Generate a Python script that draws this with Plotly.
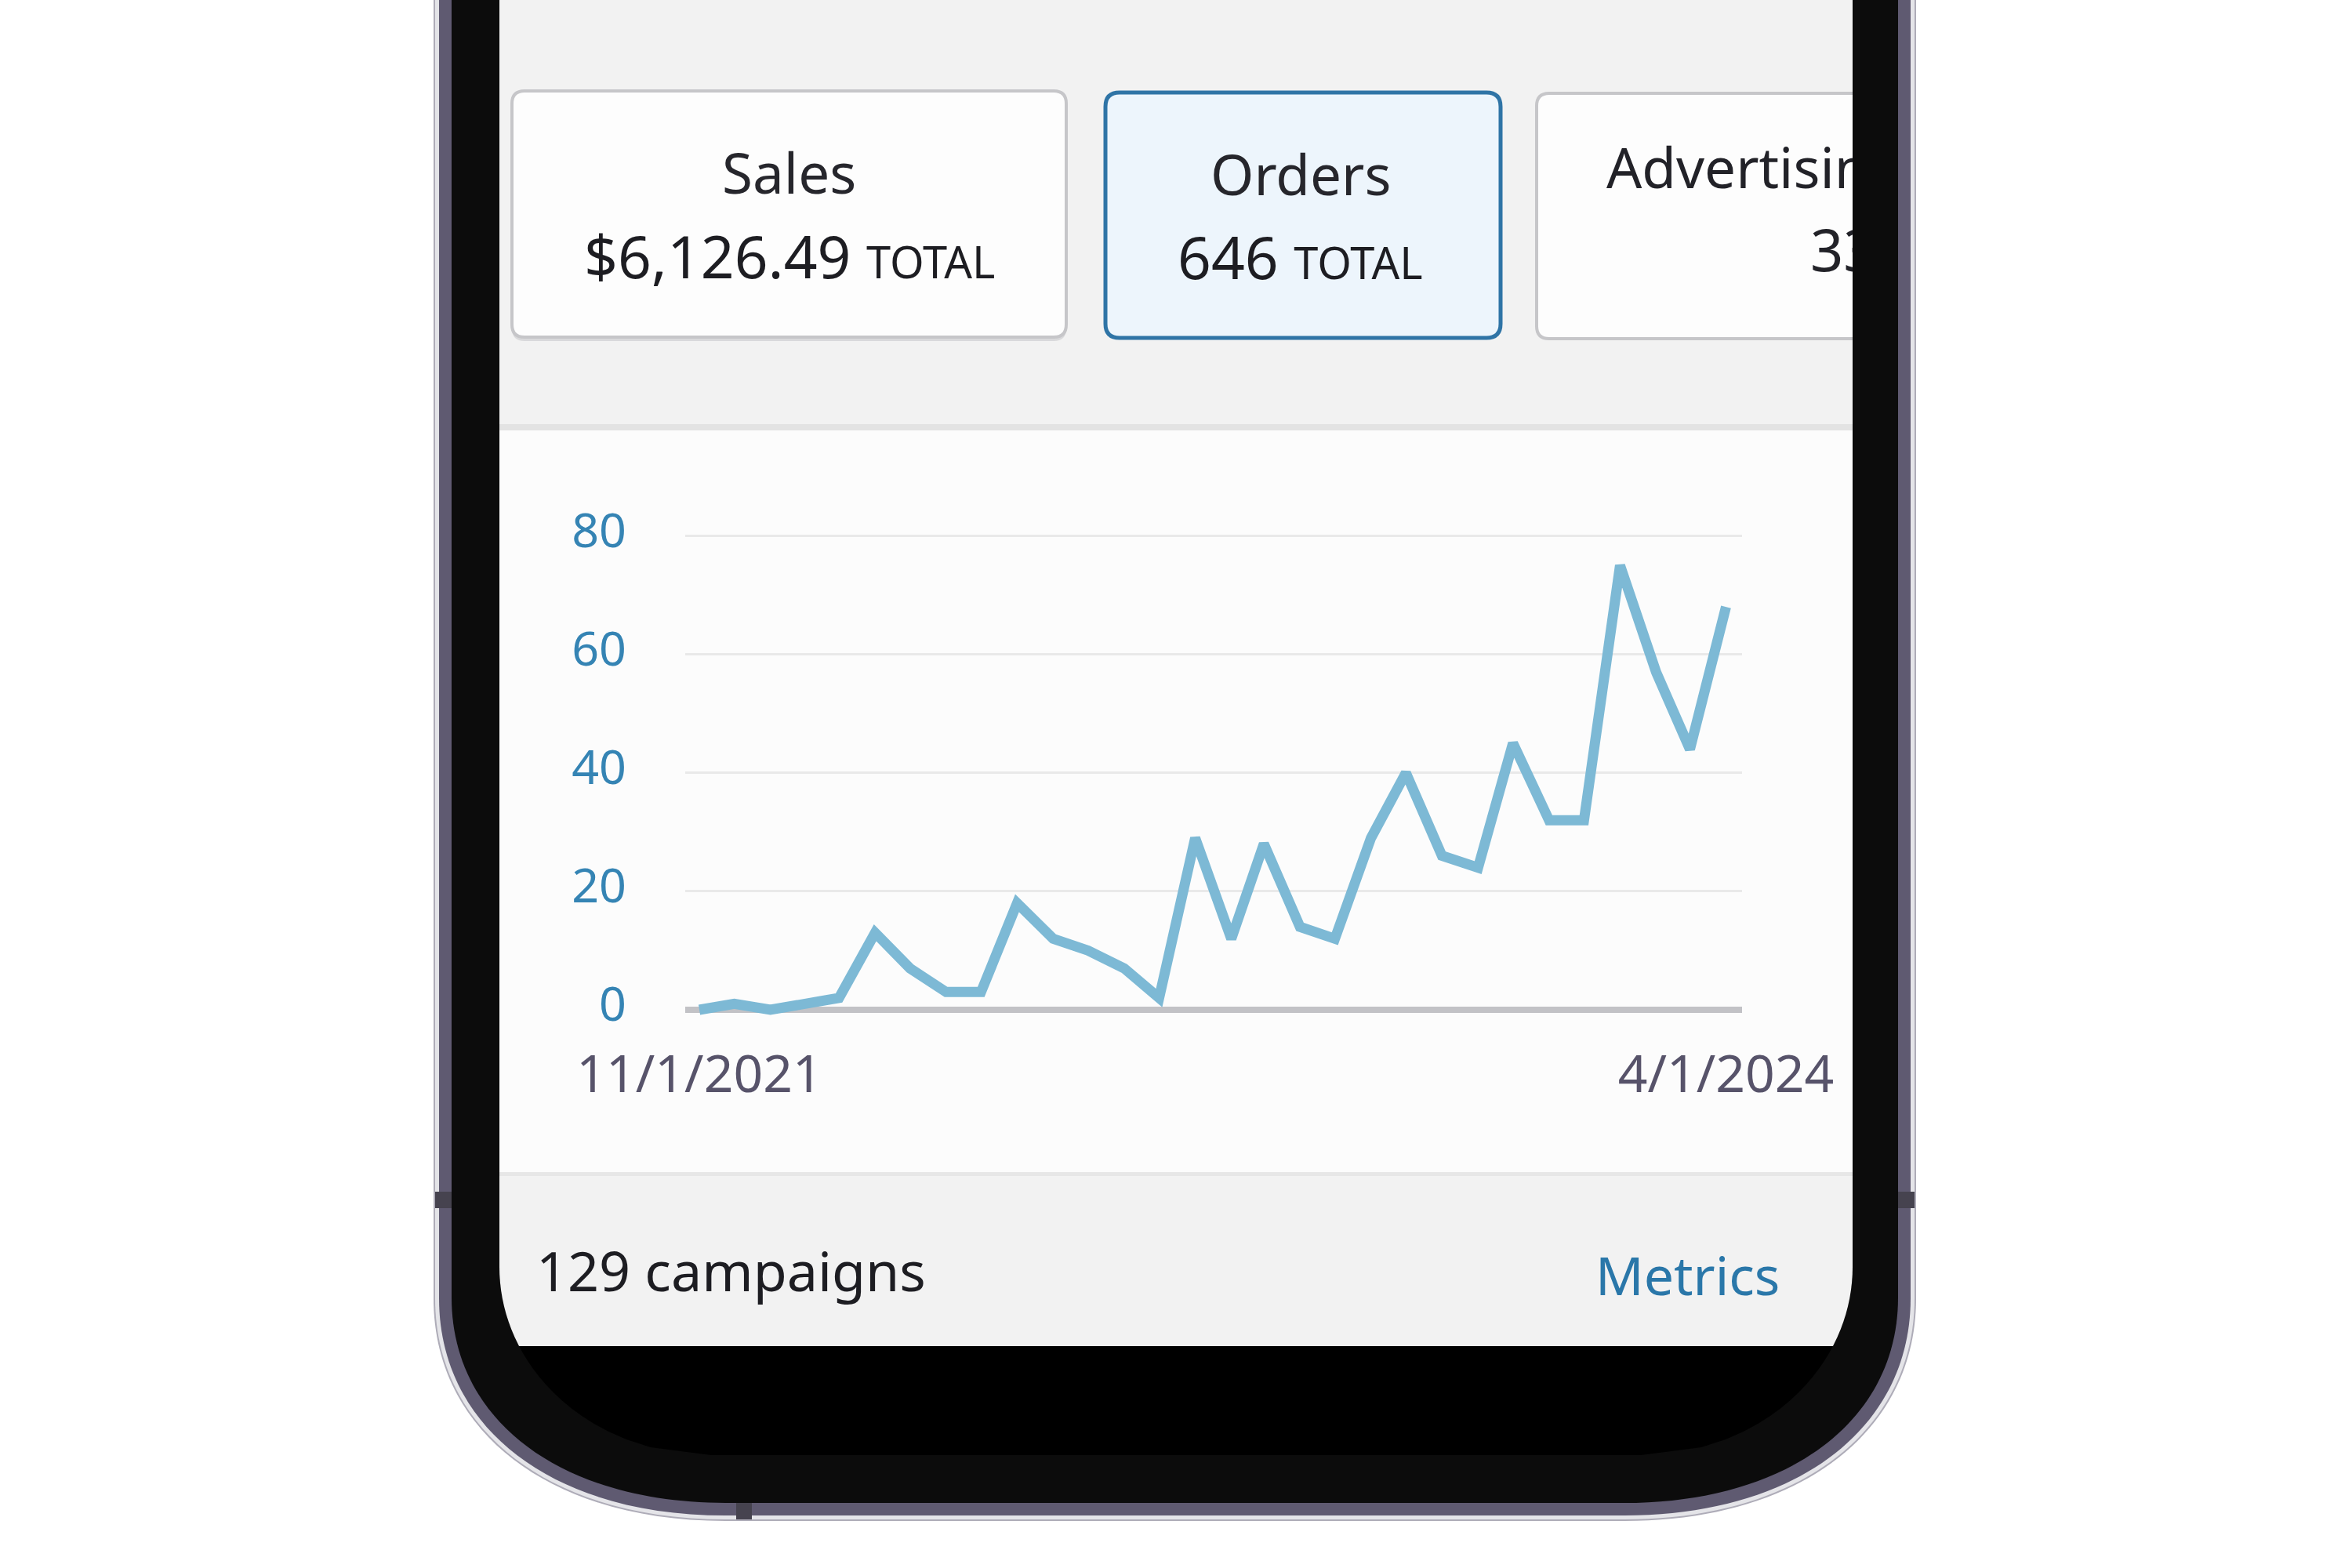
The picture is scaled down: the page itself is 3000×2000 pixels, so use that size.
import math
import plotly.graph_objects as go

W, H = 3000, 2000

# ---------------- data ----------------
months = [
    "2021-11-01", "2021-12-01", "2022-01-01", "2022-02-01", "2022-03-01", "2022-04-01",
    "2022-05-01", "2022-06-01", "2022-07-01", "2022-08-01", "2022-09-01", "2022-10-01",
    "2022-11-01", "2022-12-01", "2023-01-01", "2023-02-01", "2023-03-01", "2023-04-01",
    "2023-05-01", "2023-06-01", "2023-07-01", "2023-08-01", "2023-09-01", "2023-10-01",
    "2023-11-01", "2023-12-01", "2024-01-01", "2024-02-01", "2024-03-01", "2024-04-01",
]
orders = [0, 1, 0, 1, 2, 13, 7, 3, 3, 18, 12, 10, 7, 2, 29,
          12, 28, 14, 12, 29, 40, 26, 24, 45, 32, 32, 75, 57, 44, 68]
y_tick_vals = [0, 20, 40, 60, 80]
y_tick_text = ["0", "20", "40", "60", "80"]
x_tick_vals = ["2021-11-01", "2024-04-01"]
x_tick_text = ["11/1/2021", "4/1/2024"]

card_titles = ["Sales", "Orders", "Advertising"]
card_totals = ["$6,126.49", "646", "33"]
total_word = "TOTAL"
footer_left = "129 campaigns"
footer_right = "Metrics"

FONT = "Noto Sans"


# ---------------- helpers (pixel -> paper) ----------------
def X(px):
    return px / W


def Y(py):
    return 1 - py / H


def pt(x, y):
    return f"{X(x):.5f},{Y(y):.5f}"


def rounded_bottom(l, t, r, b, rx, ry, k=0.6):
    return (f"M {pt(l, t)} L {pt(l, b - ry)} "
            f"C {pt(l, b - ry + k * ry)} {pt(l + rx - k * rx, b)} {pt(l + rx, b)} "
            f"L {pt(r - rx, b)} "
            f"C {pt(r - rx + k * rx, b)} {pt(r, b - ry + k * ry)} {pt(r, b - ry)} "
            f"L {pt(r, t)} Z")


def rrect(l, t, r, b, rad):
    return (f"M {pt(l + rad, t)} L {pt(r - rad, t)} Q {pt(r, t)} {pt(r, t + rad)} "
            f"L {pt(r, b - rad)} Q {pt(r, b)} {pt(r - rad, b)} "
            f"L {pt(l + rad, b)} Q {pt(l, b)} {pt(l, b - rad)} "
            f"L {pt(l, t + rad)} Q {pt(l, t)} {pt(l + rad, t)} Z")


def left_open_rrect(l, t, r, b, rad):
    return (f"M {pt(r, t)} L {pt(l + rad, t)} Q {pt(l, t)} {pt(l, t + rad)} "
            f"L {pt(l, b - rad)} Q {pt(l, b)} {pt(l + rad, b)} L {pt(r, b)}")


def ellipse_bottom_path(l, t, r, b, rx, ry, ycut=None, n=24):
    """Rect with elliptical bottom corners, optionally cut flat at ycut."""
    cyc = b - ry
    bottom = b if ycut is None else ycut
    pts = [(l, t), (l, cyc)]
    for i in range(1, n + 1):
        y = cyc + ry * i / n
        if y > bottom:
            break
        dx = rx * (1 - math.sqrt(max(0.0, 1 - ((y - cyc) / ry) ** 2)))
        pts.append((l + dx, y))
    if ycut is not None:
        dx = rx * (1 - math.sqrt(max(0.0, 1 - ((bottom - cyc) / ry) ** 2)))
        pts.append((l + dx, bottom))
    right_side = [(l + r - x, y) for (x, y) in reversed(pts)]
    allp = pts + right_side
    return "M " + " L ".join(pt(x, y) for x, y in allp) + " Z"


shapes = []


def add_path(path, fill, line_color=None, line_width=0):
    shapes.append(dict(type="path", xref="paper", yref="paper", path=path,
                       fillcolor=fill, layer="below",
                       line=dict(color=line_color or "rgba(0,0,0,0)", width=line_width)))


def add_rect(l, t, r, b, fill):
    shapes.append(dict(type="rect", xref="paper", yref="paper",
                       x0=X(l), x1=X(r), y0=Y(b), y1=Y(t),
                       fillcolor=fill, layer="below", line=dict(width=0)))


# ---------------- phone frame ----------------
add_path(rounded_bottom(553, -20, 2444, 1940, 372, 284), "#aeacb8")
add_path(rounded_bottom(555, -20, 2442, 1938, 370, 282), "#e4e4e8")
add_path(rounded_bottom(560, -20, 2437, 1933, 365, 277), "#5f5a71")
add_path(rounded_bottom(576, -20, 2421, 1917, 350, 262), "#0c0c0c")
# antenna lines
add_rect(555, 1520, 576, 1541, "#46434f")
add_rect(2421, 1520, 2442, 1541, "#46434f")
add_rect(939, 1917, 959, 1938, "#46434f")
# display glass
SL, SR, GB, GRX, GRY = 637, 2363, 1856, 270, 240
add_path(ellipse_bottom_path(SL, -20, SR, GB, GRX, GRY), "#000000")

# ---------------- screen content ----------------
add_rect(SL, -20, SR, 543, "#f2f2f2")
add_rect(SL, 541, SR, 549, "#e3e3e3")
add_rect(SL, 549, SR, 1496, "#fcfcfc")
add_rect(SL, 1495, SR, 1500, "#e7e7e7")
add_path(ellipse_bottom_path(SL, 1500, SR, GB, GRX, GRY, ycut=1717), "#f2f2f2")

# cards
add_path(rrect(653, 120, 1360, 435, 16), "#d9d9db")
add_path(rrect(653, 116, 1360, 430, 16), "#fdfdfd", "#c6c6c9", 4)
add_path(rrect(1410, 118, 1914, 431, 18), "#edf5fc", "#2f74a6", 5)
add_path(left_open_rrect(1960, 119, SR, 432, 16), "#fdfdfd", "#c6c6c9", 4)

# ---------------- chart ----------------
fig = go.Figure()
fig.add_trace(go.Scatter(
    x=months, y=orders, mode="lines",
    line=dict(color="#7db9d5", width=13),
    hoverinfo="skip", showlegend=False,
))

# texts of the third card, clipped at the screen edge
fig.add_trace(go.Scatter(
    x=[2049, 2309], y=[222, 327], mode="text",
    text=[card_titles[2], card_totals[2]],
    textposition="middle right",
    textfont=dict(family=FONT, size=[71, 74], color="#222228"),
    cliponaxis=True, xaxis="x2", yaxis="y2",
    hoverinfo="skip", showlegend=False,
))

px_per_unit = (1288 - 683.5) / 80
y_lo, y_hi = -1.8, 82.0
dom_bottom = 1288 + (-y_lo) * px_per_unit
dom_top = 683.5 - (y_hi - 80) * px_per_unit

annotations = [
    dict(text=card_titles[0], x=X(1006), y=Y(220), xanchor="center", yanchor="middle",
         font=dict(family=FONT, size=71, color="#26262c")),
    dict(text=f"{card_totals[0]} <span style='font-size:56px'>{total_word}</span>",
         x=X(1007), y=Y(326), xanchor="center", yanchor="middle",
         font=dict(family=FONT, size=75, color="#1d1d22")),
    dict(text=card_titles[1], x=X(1659), y=Y(221), xanchor="center", yanchor="middle",
         font=dict(family=FONT, size=71, color="#26262c")),
    dict(text=f"{card_totals[1]} <span style='font-size:56px'>{total_word}</span>",
         x=X(1658), y=Y(327), xanchor="center", yanchor="middle",
         font=dict(family=FONT, size=75, color="#1d1d22")),
    dict(text=footer_left, x=X(682), y=Y(1620), xanchor="left", yanchor="middle",
         font=dict(family=FONT, size=70, color="#1d1d22")),
    dict(text=footer_right, x=X(2272), y=Y(1625), xanchor="right", yanchor="middle",
         font=dict(family=FONT, size=68, color="#2a77a9")),
]
for a in annotations:
    a.update(xref="paper", yref="paper", showarrow=False)

fig.update_layout(
    width=W, height=H,
    margin=dict(l=0, r=0, t=0, b=0, pad=0, autoexpand=False),
    paper_bgcolor="#ffffff",
    plot_bgcolor="rgba(0,0,0,0)",
    shapes=shapes,
    annotations=annotations,
    showlegend=False,
    xaxis=dict(
        type="date",
        domain=[X(874), X(2222)],
        range=["2021-10-19 21:00", "2024-04-14 19:00"],
        tickvals=x_tick_vals, ticktext=x_tick_text,
        showgrid=False, zeroline=False, showline=False, ticks="",
        tickfont=dict(family=FONT, size=66, color="#57536a"),
        ticklabelstandoff=24, automargin=False,
        fixedrange=True,
    ),
    yaxis=dict(
        domain=[1 - dom_bottom / H, 1 - dom_top / H],
        range=[y_lo, y_hi],
        tickvals=y_tick_vals, ticktext=y_tick_text,
        showgrid=True, gridcolor="#e9e9e9", gridwidth=3,
        zeroline=True, zerolinecolor="#c2c2c6", zerolinewidth=8,
        showline=False, ticks="",
        tickfont=dict(family=FONT, size=61, color="#3584b4"),
        ticklabelstandoff=74, ticklabelshift=-7, automargin=False,
        fixedrange=True,
    ),
    xaxis2=dict(domain=[X(SL), X(SR)], range=[SL, SR], anchor="y2",
                visible=False, fixedrange=True, automargin=False),
    yaxis2=dict(domain=[1 - 1717 / H, 1.0], range=[1717, 0], anchor="x2",
                visible=False, fixedrange=True, automargin=False),
)

fig.write_html("out.html", config={"displayModeBar": False},
               post_script="document.body.style.margin='0';document.body.style.overflow='hidden';")
